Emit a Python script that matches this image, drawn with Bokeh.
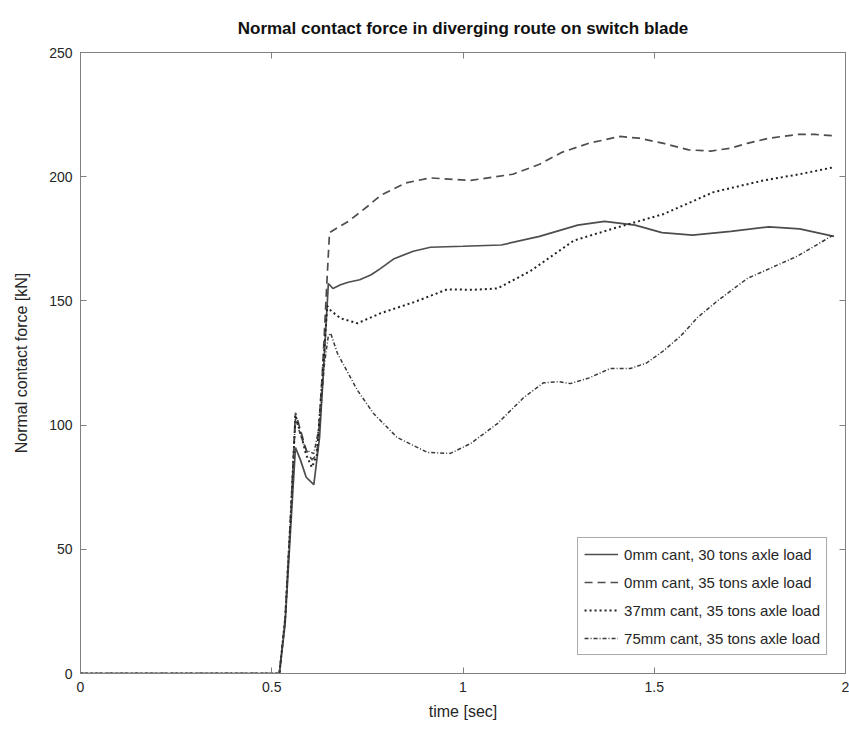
from bokeh.plotting import figure
from bokeh.models import Range1d, LinearAxis, FixedTicker, Legend, LegendItem, CustomJSTickFormatter
from bokeh.embed import file_html
from bokeh.resources import INLINE

# --- data ---
t_solid = [0, 0.52, 0.535, 0.55, 0.562, 0.575, 0.59, 0.61, 0.625, 0.64, 0.648, 0.66, 0.68, 0.70, 0.73, 0.76,
           0.784, 0.82, 0.87, 0.915, 1.0, 1.1, 1.2, 1.3, 1.37, 1.45, 1.52, 1.6, 1.7, 1.8, 1.88, 1.97]
f_solid = [0, 0, 20, 60, 91, 86, 79, 76, 95, 135, 157, 155, 156.5, 157.5, 158.5, 160.5,
           163, 167, 170, 171.6, 172, 172.5, 176, 180.5, 182, 180.5, 177.5, 176.5, 178, 179.8, 179, 176]

t_dash = [0, 0.52, 0.535, 0.55, 0.562, 0.575, 0.59, 0.605, 0.618, 0.632, 0.645, 0.651, 0.7, 0.75, 0.784,
          0.85, 0.915, 1.02, 1.13, 1.2, 1.26, 1.33, 1.41, 1.46, 1.525, 1.59, 1.647, 1.7, 1.743, 1.8, 1.874, 1.92, 1.97]
f_dash = [0, 0, 22, 65, 105, 98, 90, 86, 88, 120, 160, 177.5, 182, 188, 192.4,
          197.5, 199.5, 198.5, 201, 205, 209.9, 213.5, 216.2, 215.5, 213.4, 210.8, 210.3, 211.5, 213.4, 215.5, 217, 217, 216.5]

t_dot = [0, 0.52, 0.535, 0.55, 0.562, 0.575, 0.59, 0.605, 0.618, 0.632, 0.645, 0.655, 0.68, 0.724, 0.784,
         0.872, 0.958, 1.03, 1.09, 1.176, 1.29, 1.39, 1.525, 1.655, 1.786, 1.88, 1.966]
f_dot = [0, 0, 22, 65, 104, 97, 88, 83, 88, 118, 148, 146, 143, 141, 145,
         149.5, 154.6, 154.5, 155, 162, 174.3, 179, 185, 193.8, 198.5, 201, 203.7]

t_dashdot = [0, 0.52, 0.535, 0.55, 0.562, 0.575, 0.59, 0.61, 0.625, 0.638, 0.648, 0.654, 0.672, 0.724, 0.766,
             0.828, 0.907, 0.967, 1.02, 1.09, 1.158, 1.21, 1.25, 1.28, 1.33, 1.385, 1.438, 1.48, 1.525, 1.57,
             1.613, 1.665, 1.743, 1.874, 1.966]
f_dashdot = [0, 0, 22, 65, 103, 96, 90, 88.5, 100, 125, 136, 137, 128.8, 114, 104.7,
             95, 89, 88.6, 92.6, 100.6, 111, 117, 117.5, 116.7, 119, 122.8, 122.8, 125, 130, 136,
             143.3, 150, 159, 168, 176.3]

labels = ["0mm cant, 30 tons axle load", "0mm cant, 35 tons axle load",
          "37mm cant, 35 tons axle load", "75mm cant, 35 tons axle load"]
x_ticks = [0, 0.5, 1, 1.5, 2]
y_ticks = [0, 50, 100, 150, 200, 250]

FONT = "Liberation Sans"
TXT = "#262626"
AX = "#808080"

p = figure(width=849, height=733, output_backend="svg", toolbar_location=None,
           x_range=Range1d(0, 2), y_range=Range1d(0, 250),
           min_border_left=80, min_border_right=4, min_border_bottom=60, min_border_top=52,
           title="Normal contact force in diverging route on switch blade")
p.title.align = "center"
p.title.text_font = FONT
p.title.text_font_size = "17px"
p.title.text_font_style = "bold"
p.title.text_color = "#111111"
p.title.offset = 0
p.title.standoff = 29

p.xgrid.visible = False
p.ygrid.visible = False
p.outline_line_color = AX
p.outline_line_width = 1

for ax, ticks in ((p.xaxis[0], x_ticks), (p.yaxis[0], y_ticks)):
    ax.ticker = FixedTicker(ticks=ticks)
    ax.major_tick_in = 6
    ax.major_tick_out = 0
    ax.minor_tick_line_color = None
    ax.axis_line_color = AX
    ax.major_tick_line_color = AX
    ax.major_label_text_font = FONT
    ax.major_label_text_font_size = "14px"
    ax.major_label_text_color = TXT
    ax.axis_label_text_font = FONT
    ax.axis_label_text_font_size = "16px"
    ax.axis_label_text_font_style = "normal"
    ax.axis_label_text_color = TXT

p.xaxis.major_label_overrides = {0: "0", 0.5: "0.5", 1: "1", 1.5: "1.5", 2: "2"}
p.xaxis.axis_label = "time [sec]"
p.yaxis.axis_label = "Normal contact force [kN]"
p.xaxis.major_label_standoff = 8
p.xaxis.axis_label_standoff = 8
p.yaxis.major_label_standoff = 8
p.yaxis.axis_label_standoff = 16

blank = CustomJSTickFormatter(code="return ''")
for loc, ticks in (("above", x_ticks), ("right", y_ticks)):
    a = LinearAxis(ticker=FixedTicker(ticks=ticks), formatter=blank,
                   major_tick_in=6, major_tick_out=0, minor_tick_line_color=None,
                   axis_line_color=AX, major_tick_line_color=AX,
                   major_label_text_font_size="1px", major_label_standoff=0)
    p.add_layout(a, loc)

r1 = p.line(t_solid, f_solid, line_color="#4d4d4d", line_width=1.7)
r2 = p.line(t_dash, f_dash, line_color="#4d4d4d", line_width=1.7, line_dash="8 5")
r3 = p.line(t_dot, f_dot, line_color="#222222", line_width=2, line_dash="2 3")
r4 = p.line(t_dashdot, f_dashdot, line_color="#3a3a3a", line_width=1.5, line_dash="4 2 1 2")

legend = Legend(items=[LegendItem(label=l, renderers=[r]) for l, r in zip(labels, [r1, r2, r3, r4])],
                location="bottom_right")
legend.label_text_font = FONT
legend.label_text_font_size = "15px"
legend.label_text_color = TXT
legend.border_line_color = "#555555"
legend.border_line_width = 1
legend.background_fill_color = "white"
legend.background_fill_alpha = 1
legend.glyph_width = 34
legend.glyph_height = 20
legend.label_height = 20
legend.spacing = 8
legend.padding = 6
legend.margin = 18
legend.label_standoff = 6
p.add_layout(legend, "center")

open("out.html", "w").write(file_html(p, INLINE))
